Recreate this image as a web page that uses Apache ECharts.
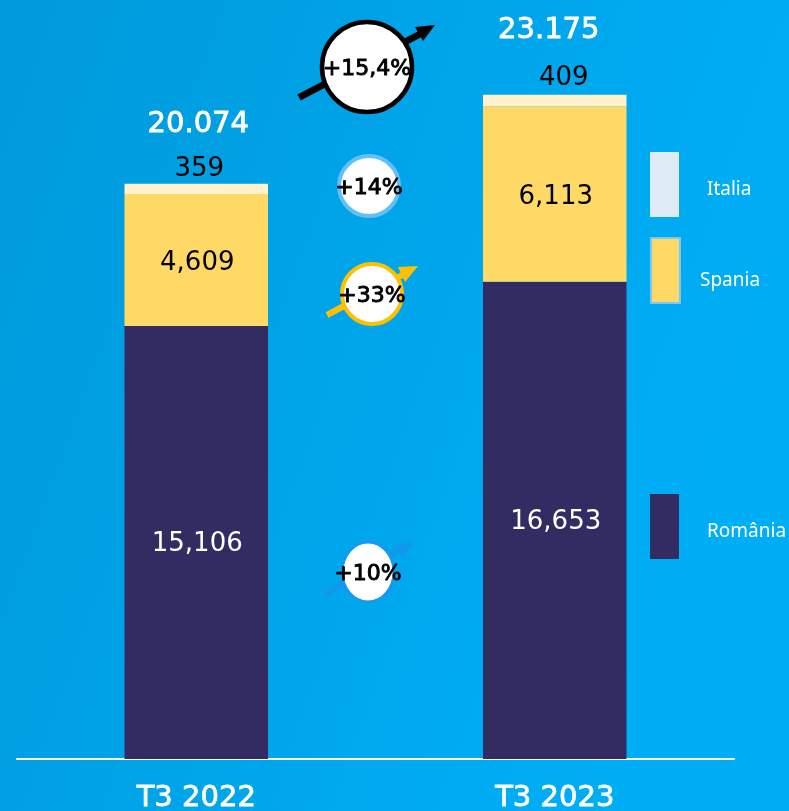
<!DOCTYPE html>
<html><head><meta charset="utf-8">
<style>html,body{margin:0;padding:0;background:#00A6EA}#c{width:789px;height:811px}</style>
<script src="https://cdn.jsdelivr.net/npm/echarts@6/dist/echarts.min.js"></script>
</head><body><div id="c"></div>
<script>
const categories = ['T3 2022', 'T3 2023'];
const romania = [15106, 16653];
const spania = [4609, 6113];
const italia = [359, 409];
const totals = [20074, 23175];
const changes = ['+15,4%', '+14%', '+33%', '+10%'];
const FONT = 'DejaVu Sans';
const fmt = (v) => String(v).replace(/(\d)(\d{3})$/, '$1,$2');
const fmtTotal = (v) => String(v).replace(/(\d)(\d{3})$/, '$1.$2');
const smallOffsets = [[3, 1], [9, -2]];
const totalOffsets = [[2, 2], [-6, -3]];

function badge(cx, cy, rx, ry, stroke, lw, label, fs) {
  return [
    {type:'ellipse', z:20, shape:{cx, cy, rx, ry}, style:{fill:'#fff', stroke, lineWidth:lw}},
    {type:'text', z:21, x:cx, y:cy+2.5, style:{text:label, font:`400 ${fs}px ${FONT}`, fill:'#000', stroke:'#000', lineWidth:0.9, align:'center', verticalAlign:'middle'}}
  ];
}
function arrow(x1, y1, x2, y2, head, color, lw) {
  return [
    {type:'line', z:10, shape:{x1, y1, x2, y2}, style:{stroke:color, lineWidth:lw}},
    {type:'polygon', z:10, shape:{points:head}, style:{fill:color}}
  ];
}
const legendBase = {orient:'vertical', itemWidth:29, itemHeight:65, icon:'rect', selectedMode:false, formatter:'{a|{name}}'};
const legendText = (top, left) => ({color:'#fff', fontFamily:'Noto Sans', fontSize:19,
  rich:{a:{color:'#fff', fontFamily:'Noto Sans', fontSize:19, padding:[top,0,0,left]}}});

const chart = echarts.init(document.getElementById('c'), null, {renderer:'canvas'});
chart.setOption({
  animation:false,
  backgroundColor:{type:'linear', x:0, y:0, x2:1, y2:0.35, colorStops:[{offset:0,color:'#009ADB'},{offset:1,color:'#00AEF6'}]},
  grid:{left:17, right:55, top:42.5, height:716.5, containLabel:false, outerBoundsMode:'none'},
  xAxis:{type:'category', data:categories,
    axisLine:{lineStyle:{color:'#fff', width:2}}, axisTick:{show:false},
    axisLabel:{color:'#fff', fontFamily:FONT, fontSize:29, margin:25, textBorderColor:'#fff', textBorderWidth:0.8}},
  yAxis:{type:'value', min:0, max:25000, show:false, splitLine:{show:false}},
  legend:[
    {...legendBase, left:645, top:147, data:[{name:'Italia', itemStyle:{color:'#DEEAF6'}}], textStyle:legendText(10,23)},
    {...legendBase, left:645, top:232, data:[{name:'Spania', itemStyle:{color:'#FFD966', borderColor:'#7CC8F2', borderWidth:2}}], textStyle:legendText(20,15)},
    {...legendBase, left:645, top:489, data:[{name:'România', itemStyle:{color:'#322C63'}}], textStyle:legendText(10,23)}
  ],
  series:[
    {name:'România', type:'bar', stack:'t', barWidth:143.5, data:romania, itemStyle:{color:'#322C63'},
      label:{show:true, position:'inside', offset:[1,2], color:'#fff', fontFamily:FONT, fontSize:26, formatter:p=>fmt(p.value)}},
    {name:'Spania', type:'bar', stack:'t', data:spania, itemStyle:{color:'#FFD966'},
      label:{show:true, position:'inside', offset:[1,3], color:'#000', fontFamily:FONT, fontSize:26, formatter:p=>fmt(p.value)}},
    {name:'Italia', type:'bar', stack:'t', itemStyle:{color:'#FFF2CC'},
      data:italia.map((v,i)=>({value:v, label:{offset:smallOffsets[i]}})),
      label:{show:true, position:'top', distance:2, color:'#000', fontFamily:FONT, fontSize:26, formatter:p=>String(p.value)}},
    {name:'Total', type:'scatter', symbolSize:1, itemStyle:{color:'rgba(0,0,0,0)', opacity:1}, silent:true,
      data:totals.map((v,i)=>({value:v, label:{offset:totalOffsets[i]}})),
      label:{show:true, position:'top', distance:46, color:'#fff', fontFamily:FONT, fontSize:29, textBorderColor:'#fff', textBorderWidth:0.8, formatter:p=>fmtTotal(p.value)}}
  ],
  graphic:[
    ...arrow(299,97.5,424,32,[[435,25],[415,27],[423,41]],'#000',7),
    ...badge(367,67,45,45,'#000',4.5,changes[0],22),
    ...badge(369,186,30,30,'#64BFF5',4,changes[1],22),
    ...arrow(327,315,408,272,[[418,266],[398,267],[405,282]],'#FFC000',6),
    ...badge(372,294,30,30,'#FFC000',4,changes[2],22),
    ...arrow(326,594,402,548,[[412,542],[394,545],[403,557]],'#1296EE',6),
    ...badge(368,572,26,30,'#1299F0',3,changes[3],22)
  ]
});
</script></body></html>
